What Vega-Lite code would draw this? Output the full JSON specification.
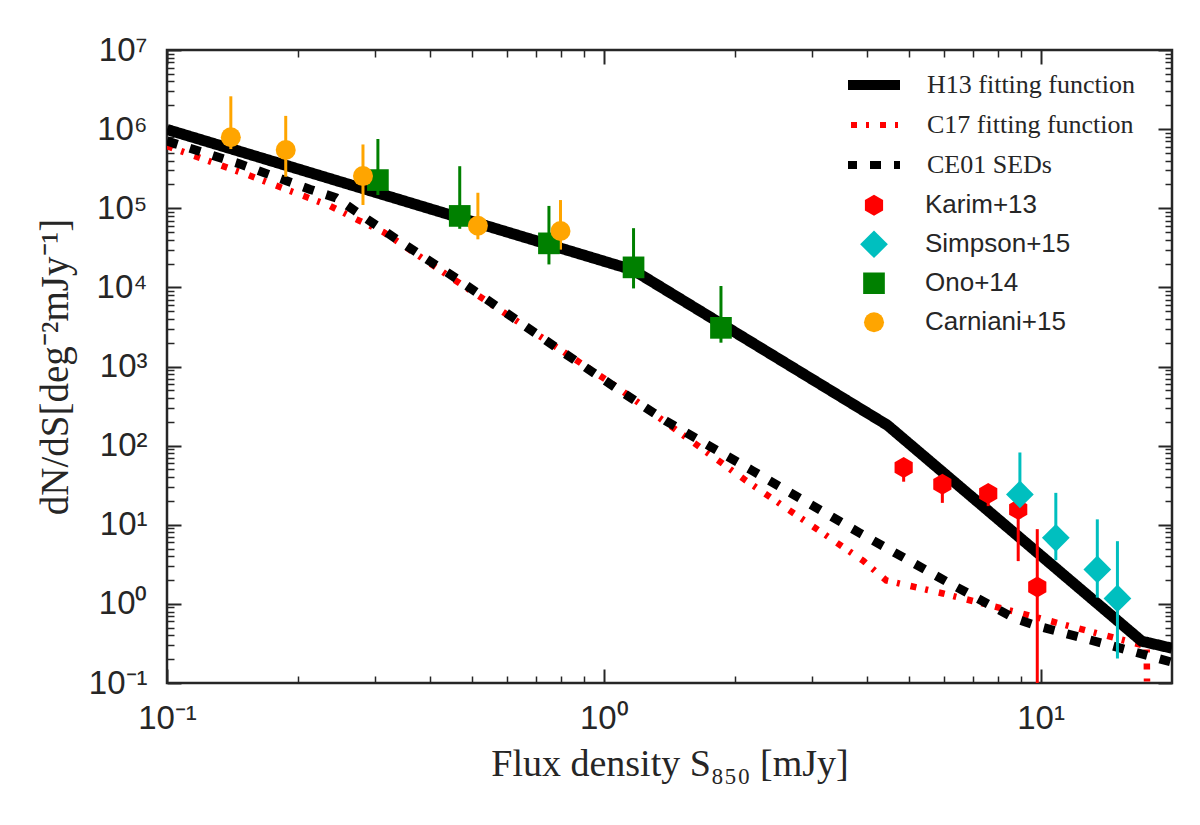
{
  "$schema": "https://vega.github.io/schema/vega-lite/v6.json",
  "autosize": {"type": "none"},
  "width": 1005,
  "height": 633,
  "padding": {"left": 167, "top": 50, "right": 28, "bottom": 142},
  "background": "white",
  "config": {
    "view": {"stroke": "#262626", "strokeWidth": 2.5},
    "axis": {"grid": false, "domain": false, "tickColor": "#262626", "labelColor": "#262626", "labelFlush": false, "labelOverlap": false}
  },
  "datasets": {
    "c17": [
      {"series": "C17 fitting function", "S": 0.1, "N": 610000},
      {"series": "C17 fitting function", "S": 0.1534, "N": 263000},
      {"series": "C17 fitting function", "S": 0.2365, "N": 106700},
      {"series": "C17 fitting function", "S": 0.2723, "N": 71900},
      {"series": "C17 fitting function", "S": 0.313, "N": 50000},
      {"series": "C17 fitting function", "S": 0.487, "N": 9700},
      {"series": "C17 fitting function", "S": 1.056, "N": 582},
      {"series": "C17 fitting function", "S": 2.098, "N": 37.4},
      {"series": "C17 fitting function", "S": 3.93, "N": 3.49},
      {"series": "C17 fitting function", "S": 4.435, "N": 1.976},
      {"series": "C17 fitting function", "S": 5.98, "N": 1.354},
      {"series": "C17 fitting function", "S": 8.776, "N": 0.792},
      {"series": "C17 fitting function", "S": 12.64, "N": 0.465},
      {"series": "C17 fitting function", "S": 17.5, "N": 0.292},
      {"series": "C17 fitting function", "S": 17.6, "N": 0.01}
    ],
    "ce01": [
      {"series": "CE01 SEDs", "S": 0.1, "N": 707000},
      {"series": "CE01 SEDs", "S": 0.147, "N": 362000},
      {"series": "CE01 SEDs", "S": 0.2128, "N": 173000},
      {"series": "CE01 SEDs", "S": 0.244, "N": 135000},
      {"series": "CE01 SEDs", "S": 0.27, "N": 92000},
      {"series": "CE01 SEDs", "S": 0.335, "N": 40800},
      {"series": "CE01 SEDs", "S": 0.4656, "N": 12370},
      {"series": "CE01 SEDs", "S": 0.804, "N": 1534},
      {"series": "CE01 SEDs", "S": 1.113, "N": 457},
      {"series": "CE01 SEDs", "S": 1.387, "N": 205.8},
      {"series": "CE01 SEDs", "S": 2.193, "N": 48.0},
      {"series": "CE01 SEDs", "S": 3.85, "N": 7.9},
      {"series": "CE01 SEDs", "S": 6.14, "N": 1.865},
      {"series": "CE01 SEDs", "S": 8.73, "N": 0.654},
      {"series": "CE01 SEDs", "S": 9.88, "N": 0.522},
      {"series": "CE01 SEDs", "S": 14.42, "N": 0.30},
      {"series": "CE01 SEDs", "S": 20, "N": 0.183}
    ],
    "h13": [
      {"series": "H13 fitting function", "S": 0.1, "N": 990000},
      {"series": "H13 fitting function", "S": 1.166, "N": 16600},
      {"series": "H13 fitting function", "S": 4.46, "N": 181.6},
      {"series": "H13 fitting function", "S": 17.05, "N": 0.3376},
      {"series": "H13 fitting function", "S": 20, "N": 0.275}
    ],
    "pts": [
      {"survey": "Karim+13", "S": 4.86, "N": 53, "lo": 35, "hi": 65},
      {"survey": "Karim+13", "S": 5.96, "N": 32.6, "lo": 18.9, "hi": 42},
      {"survey": "Karim+13", "S": 7.59, "N": 24.9, "lo": 17.2, "hi": 31},
      {"survey": "Karim+13", "S": 8.89, "N": 15.6, "lo": 3.47, "hi": 25},
      {"survey": "Karim+13", "S": 9.83, "N": 1.64, "lo": 0.01, "hi": 8.8},
      {"survey": "Simpson+15", "S": 8.97, "N": 24.2, "lo": 12, "hi": 81.9},
      {"survey": "Simpson+15", "S": 10.84, "N": 6.83, "lo": 3.57, "hi": 25.3},
      {"survey": "Simpson+15", "S": 13.49, "N": 2.72, "lo": 1.2, "hi": 11.7},
      {"survey": "Simpson+15", "S": 15.0, "N": 1.17, "lo": 0.204, "hi": 6.2},
      {"survey": "Ono+14", "S": 0.304, "N": 227000, "lo": 147000, "hi": 750000},
      {"survey": "Ono+14", "S": 0.468, "N": 80000, "lo": 55000, "hi": 340000},
      {"survey": "Ono+14", "S": 0.749, "N": 36000, "lo": 19500, "hi": 107000},
      {"survey": "Ono+14", "S": 1.17, "N": 17900, "lo": 9700, "hi": 56000},
      {"survey": "Ono+14", "S": 1.855, "N": 3080, "lo": 2000, "hi": 10400},
      {"survey": "Carniani+15", "S": 0.14, "N": 790000, "lo": 560000, "hi": 2600000},
      {"survey": "Carniani+15", "S": 0.187, "N": 544000, "lo": 250000, "hi": 1470000},
      {"survey": "Carniani+15", "S": 0.281, "N": 255000, "lo": 110000, "hi": 640000},
      {"survey": "Carniani+15", "S": 0.515, "N": 60000, "lo": 40500, "hi": 157000},
      {"survey": "Carniani+15", "S": 0.796, "N": 51500, "lo": 30000, "hi": 127000}
    ]
  },
  "resolve": {"axis": {"x": "independent", "y": "independent"}},
  "layer": [
    {
      "data": {"name": "c17"},
      "mark": {"type": "line", "clip": true, "strokeCap": "butt", "strokeWidth": 6.5},
      "encoding": {
        "x": {"field": "S", "type": "quantitative", "scale": {"type": "log", "domain": [0.1, 20], "nice": false},
          "axis": {"orient": "bottom", "values": [0.1, 1, 10], "tickSize": -14, "tickWidth": 2, "labelPadding": 33,
            "labelExpr": "['10⁻¹','10⁰','10¹','10²'][round(log(datum.value)/LN10)+1]",
            "labelFont": "Liberation Sans", "labelFontSize": 33, "labelBaseline": "top",
            "title": "Flux density S₈₅₀ [mJy]", "titleFont": "Liberation Serif", "titleFontSize": 38, "titleFontWeight": "normal", "titleColor": "#262626", "titlePadding": 10}},
        "y": {"field": "N", "type": "quantitative", "scale": {"type": "log", "domain": [0.1, 10000000], "nice": false},
          "axis": {"orient": "left", "values": [0.1, 1, 10, 100, 1000, 10000, 100000, 1000000, 10000000], "tickSize": -14, "tickWidth": 2, "labelPadding": 34,
            "labelExpr": "['10⁻¹','10⁰','10¹','10²','10³','10⁴','10⁵','10⁶','10⁷'][round(log(datum.value)/LN10)+1]",
            "labelFont": "Liberation Sans", "labelFontSize": 33,
            "title": "dN/dS[deg⁻²mJy⁻¹]", "titleFont": "Liberation Serif", "titleFontSize": 39, "titleFontWeight": "normal", "titleColor": "#262626", "titlePadding": 13}},
        "stroke": {"field": "series", "type": "nominal",
          "scale": {"domain": ["H13 fitting function", "C17 fitting function", "CE01 SEDs"], "range": ["#000000", "#ff0000", "#000000"]},
          "legend": {"orient": "none", "legendX": 681, "legendY": 15, "title": null, "padding": 0, "clipHeight": 40, "rowPadding": 0, "symbolSize": 2704, "symbolType": "M-1.5,0H1.5", "labelOffset": 53, "labelLimit": 0, "labelFont": "Liberation Serif", "labelFontSize": 26, "labelColor": "#262626",
            "encode": {"symbols": {"update": {"size": {"value": 2704}, "fill": {"value": "transparent"}, "strokeWidth": {"signal": "datum.value == 'H13 fitting function' ? 10 : datum.value == 'CE01 SEDs' ? 8 : 6"}}}}}},
        "strokeDash": {"field": "series", "type": "nominal",
          "scale": {"domain": ["H13 fitting function", "C17 fitting function", "CE01 SEDs"], "range": [[1, 0], [6, 9, 3, 11], [11, 13]]},
          "legend": {"orient": "none", "legendX": 681, "legendY": 15, "title": null, "padding": 0, "clipHeight": 40, "rowPadding": 0, "symbolSize": 2704, "symbolType": "M-1.5,0H1.5", "labelOffset": 53, "labelLimit": 0, "labelFont": "Liberation Serif", "labelFontSize": 26, "labelColor": "#262626",
            "encode": {"symbols": {"update": {"size": {"value": 2704}, "fill": {"value": "transparent"}, "strokeWidth": {"signal": "datum.value == 'H13 fitting function' ? 10 : datum.value == 'CE01 SEDs' ? 8 : 6"}}}}}},
        "order": {"field": "S", "type": "quantitative"}
      }
    },
    {
      "data": {"name": "ce01"},
      "mark": {"type": "line", "clip": true, "strokeCap": "butt", "strokeWidth": 9},
      "encoding": {
        "x": {"field": "S", "type": "quantitative", "scale": {"type": "log", "domain": [0.1, 20], "nice": false}, "axis": null},
        "y": {"field": "N", "type": "quantitative", "scale": {"type": "log", "domain": [0.1, 10000000], "nice": false}, "axis": null},
        "stroke": {"field": "series", "type": "nominal"},
        "strokeDash": {"field": "series", "type": "nominal"},
        "order": {"field": "S", "type": "quantitative"}
      }
    },
    {
      "data": {"name": "h13"},
      "mark": {"type": "line", "clip": true, "strokeCap": "butt", "strokeWidth": 11},
      "encoding": {
        "x": {"field": "S", "type": "quantitative", "scale": {"type": "log", "domain": [0.1, 20], "nice": false},
          "axis": {"orient": "bottom", "values": [0.2, 0.3, 0.4, 0.5, 0.6, 0.7, 0.8, 0.9, 2, 3, 4, 5, 6, 7, 8, 9], "tickSize": -7, "tickWidth": 1.5, "labels": false, "title": null}},
        "y": {"field": "N", "type": "quantitative", "scale": {"type": "log", "domain": [0.1, 10000000], "nice": false},
          "axis": {"orient": "left", "values": [0.2, 0.3, 0.4, 0.5, 0.6, 0.7, 0.8, 0.9, 2, 3, 4, 5, 6, 7, 8, 9, 20, 30, 40, 50, 60, 70, 80, 90, 200, 300, 400, 500, 600, 700, 800, 900, 2000, 3000, 4000, 5000, 6000, 7000, 8000, 9000, 20000, 30000, 40000, 50000, 60000, 70000, 80000, 90000, 200000, 300000, 400000, 500000, 600000, 700000, 800000, 900000, 2000000, 3000000, 4000000, 5000000, 6000000, 7000000, 8000000, 9000000], "tickSize": -7, "tickWidth": 1.5, "labels": false, "title": null}},
        "stroke": {"field": "series", "type": "nominal"},
        "strokeDash": {"field": "series", "type": "nominal"},
        "order": {"field": "S", "type": "quantitative"}
      }
    },
    {
      "data": {"name": "pts"},
      "mark": {"type": "rule", "clip": true, "strokeWidth": 3},
      "encoding": {
        "x": {"field": "S", "type": "quantitative", "scale": {"type": "log", "domain": [0.1, 20], "nice": false},
          "axis": {"orient": "top", "values": [0.1, 1, 10], "tickSize": -14, "tickWidth": 2, "labels": false, "title": null}},
        "y": {"field": "lo", "type": "quantitative", "scale": {"type": "log", "domain": [0.1, 10000000], "nice": false},
          "axis": {"orient": "right", "values": [0.1, 1, 10, 100, 1000, 10000, 100000, 1000000, 10000000], "tickSize": -14, "tickWidth": 2, "labels": false, "title": null}},
        "y2": {"field": "hi"},
        "color": {"field": "survey", "type": "nominal",
          "scale": {"domain": ["Karim+13", "Simpson+15", "Ono+14", "Carniani+15"], "range": ["#ff0000", "#00bfbf", "#008000", "#ffa500"]}}
      }
    },
    {
      "data": {"name": "pts"},
      "mark": {"type": "point", "filled": true, "opacity": 1, "clip": true, "strokeWidth": 0},
      "encoding": {
        "x": {"field": "S", "type": "quantitative", "scale": {"type": "log", "domain": [0.1, 20], "nice": false},
          "axis": {"orient": "top", "values": [0.2, 0.3, 0.4, 0.5, 0.6, 0.7, 0.8, 0.9, 2, 3, 4, 5, 6, 7, 8, 9], "tickSize": -7, "tickWidth": 1.5, "labels": false, "title": null}},
        "y": {"field": "N", "type": "quantitative", "scale": {"type": "log", "domain": [0.1, 10000000], "nice": false},
          "axis": {"orient": "right", "values": [0.2, 0.3, 0.4, 0.5, 0.6, 0.7, 0.8, 0.9, 2, 3, 4, 5, 6, 7, 8, 9, 20, 30, 40, 50, 60, 70, 80, 90, 200, 300, 400, 500, 600, 700, 800, 900, 2000, 3000, 4000, 5000, 6000, 7000, 8000, 9000, 20000, 30000, 40000, 50000, 60000, 70000, 80000, 90000, 200000, 300000, 400000, 500000, 600000, 700000, 800000, 900000, 2000000, 3000000, 4000000, 5000000, 6000000, 7000000, 8000000, 9000000], "tickSize": -7, "tickWidth": 1.5, "labels": false, "title": null}},
        "color": {"field": "survey", "type": "nominal",
          "scale": {"domain": ["Karim+13", "Simpson+15", "Ono+14", "Carniani+15"], "range": ["#ff0000", "#00bfbf", "#008000", "#ffa500"]},
          "legend": {"orient": "none", "legendX": 693, "legendY": 136, "title": null, "padding": 0, "clipHeight": 38.5, "rowPadding": 0, "labelOffset": 37, "labelFont": "Liberation Sans", "labelFontSize": 26, "labelColor": "#262626", "symbolStrokeWidth": 0, "symbolOpacity": 1}},
        "shape": {"field": "survey", "type": "nominal",
          "scale": {"domain": ["Karim+13", "Simpson+15", "Ono+14", "Carniani+15"], "range": ["M0,-1L0.866,-0.5L0.866,0.5L0,1L-0.866,0.5L-0.866,-0.5Z", "diamond", "square", "circle"]},
          "legend": {"orient": "none", "legendX": 693, "legendY": 136, "title": null, "padding": 0, "clipHeight": 38.5, "rowPadding": 0, "labelOffset": 37, "labelFont": "Liberation Sans", "labelFontSize": 26, "labelColor": "#262626", "symbolStrokeWidth": 0, "symbolOpacity": 1}},
        "size": {"field": "survey", "type": "nominal",
          "scale": {"type": "ordinal", "domain": ["Karim+13", "Simpson+15", "Ono+14", "Carniani+15"], "range": [441, 770, 470, 400]},
          "legend": {"orient": "none", "legendX": 693, "legendY": 136, "title": null, "padding": 0, "clipHeight": 38.5, "rowPadding": 0, "labelOffset": 37, "labelFont": "Liberation Sans", "labelFontSize": 26, "labelColor": "#262626", "symbolStrokeWidth": 0, "symbolOpacity": 1}}
      }
    }
  ]
}
